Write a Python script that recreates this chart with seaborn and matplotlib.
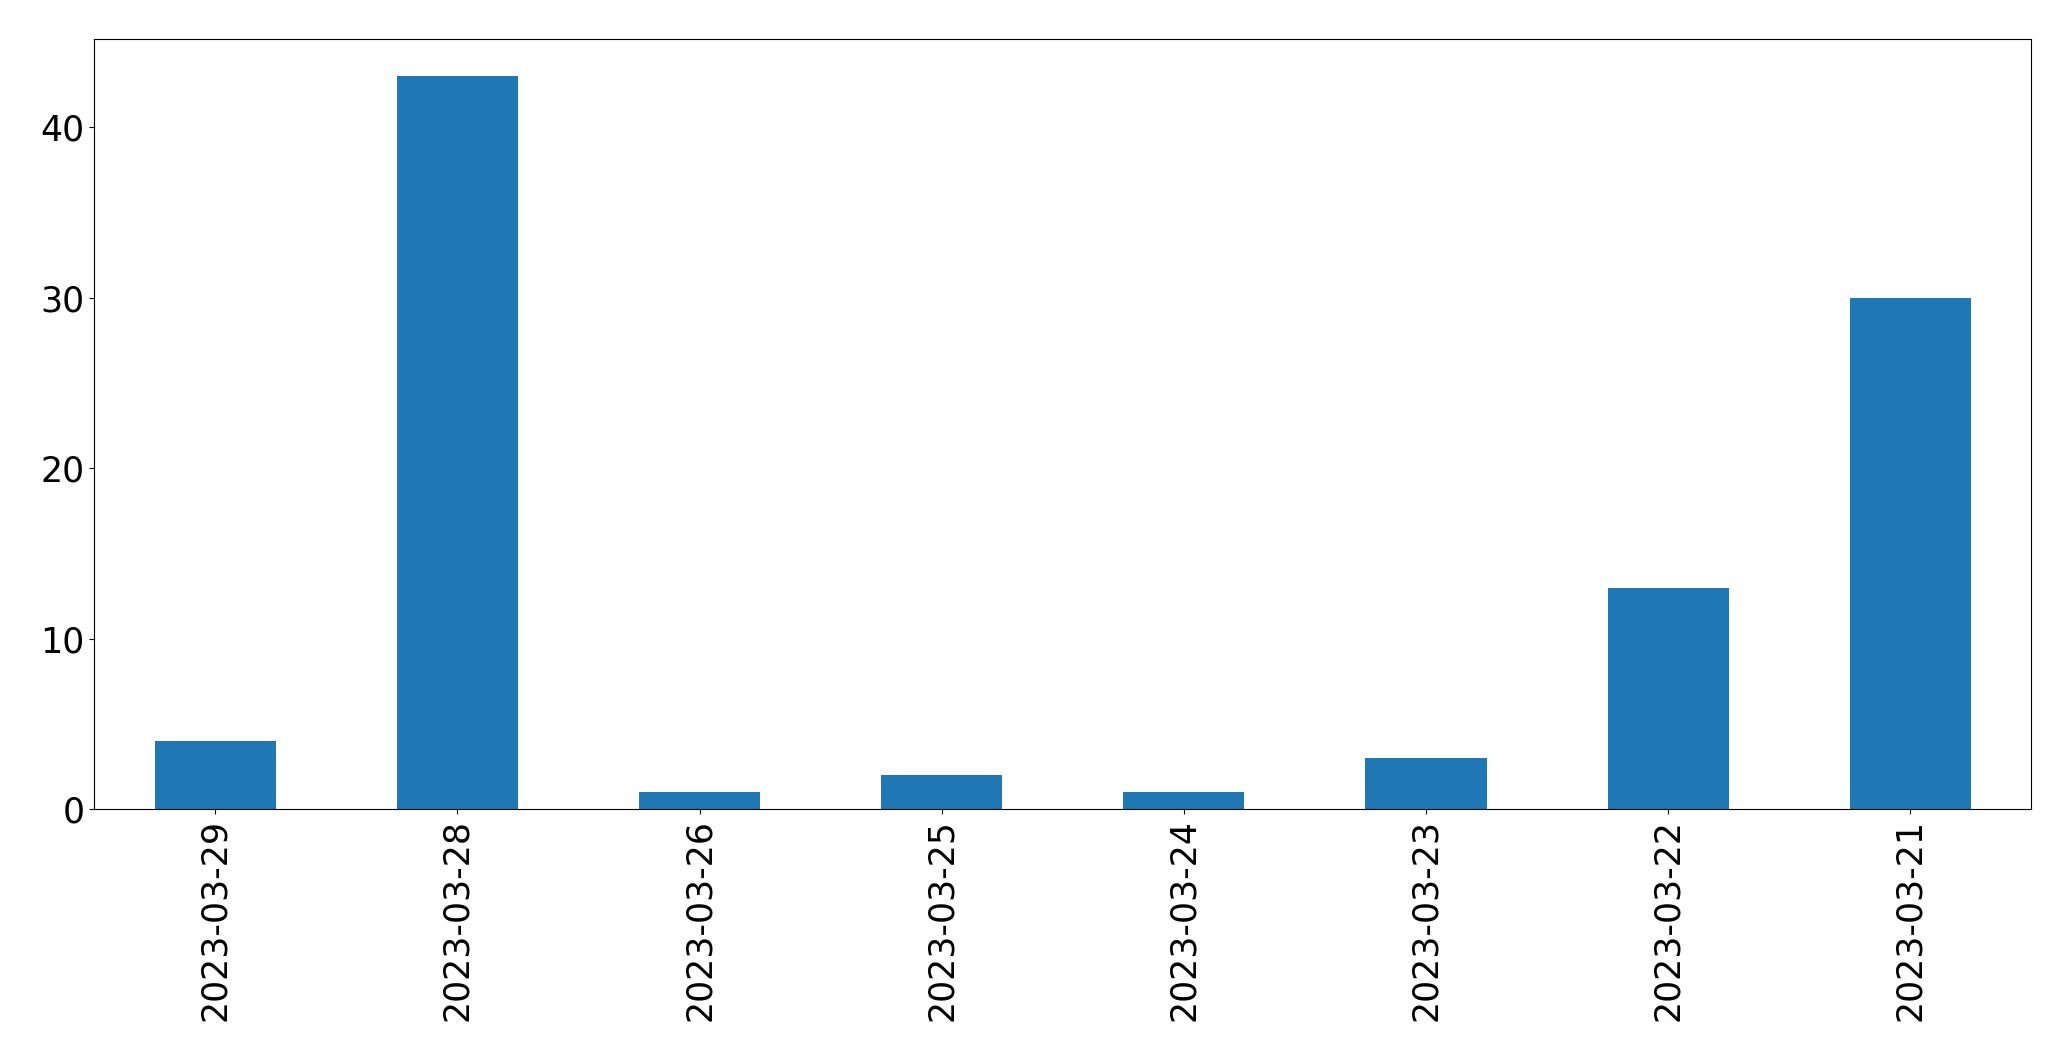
import matplotlib
matplotlib.use('Agg')
import matplotlib.pyplot as plt
import seaborn as sns
import pandas as pd

# 날짜별 건수
dates = ['2023-03-29', '2023-03-28', '2023-03-26', '2023-03-25',
         '2023-03-24', '2023-03-23', '2023-03-22', '2023-03-21']
counts = [4, 43, 1, 2, 1, 3, 13, 30]

df = pd.DataFrame({'date': dates, 'count': counts})

fig = plt.figure(figsize=(20.71, 10.61), dpi=100)
ax = fig.add_axes([0.04553, 0.23722, 0.93530, 0.72573])

sns.barplot(data=df, x='date', y='count', order=dates, color='#1f77b4',
            saturation=1, width=0.5, ax=ax, linewidth=0)

ax.set_xlim(-0.5, len(dates) - 0.5)
ax.set_ylim(0, 45.15)
ax.set_yticks([0, 10, 20, 30, 40])
ax.set_xlabel('')
ax.set_ylabel('')
ax.tick_params(axis='both', labelsize=25)
plt.setp(ax.get_xticklabels(), rotation=90)

fig.savefig('out.png', dpi=100)
